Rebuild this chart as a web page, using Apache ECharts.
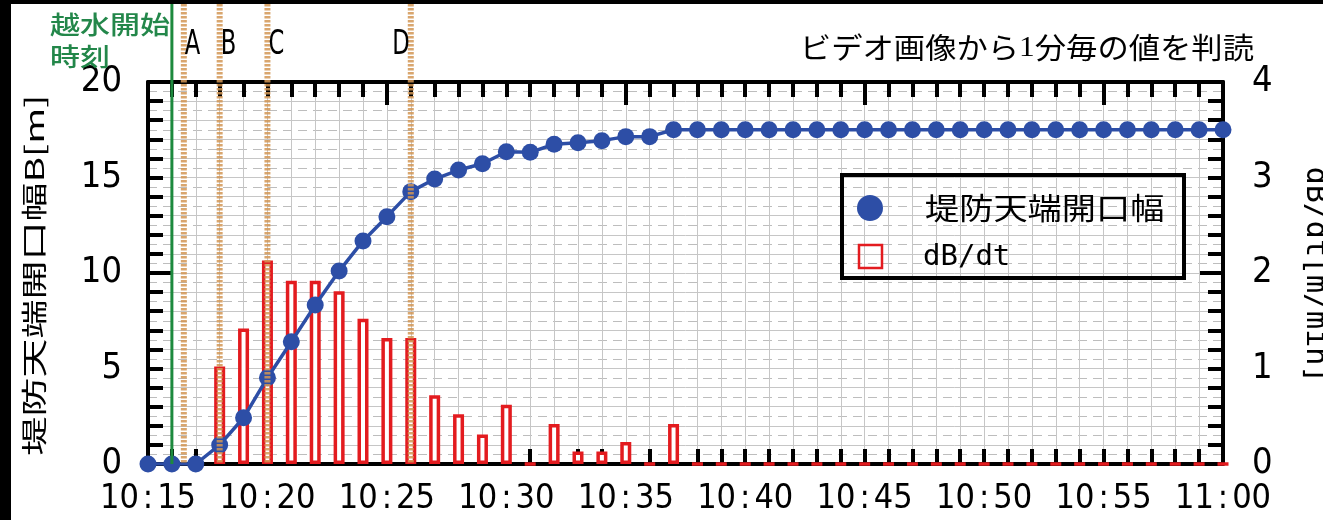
<!DOCTYPE html>
<html><head><meta charset="utf-8">
<script src="https://cdn.jsdelivr.net/npm/echarts@6/dist/echarts.min.js"></script>
<style>html,body{margin:0;padding:0;background:#fff}#c{width:1323px;height:520px}</style>
</head><body><div id="c"></div>
<script>
// ---- data ----
const times = ['10:15','10:16','10:17','10:18','10:19','10:20','10:21','10:22','10:23','10:24',
  '10:25','10:26','10:27','10:28','10:29','10:30','10:31','10:32','10:33','10:34',
  '10:35','10:36','10:37','10:38','10:39','10:40','10:41','10:42','10:43','10:44',
  '10:45','10:46','10:47','10:48','10:49','10:50','10:51','10:52','10:53','10:54',
  '10:55','10:56','10:57','10:58','10:59','11:00'];
const widthB = [0,0,0,1.0,2.42,4.52,6.4,8.32,10.1,11.68,
  12.95,14.26,14.92,15.39,15.72,16.35,16.32,16.74,16.82,16.93,
  17.14,17.14,17.5,17.5,17.5,17.5,17.5,17.5,17.5,17.5,
  17.5,17.5,17.5,17.5,17.5,17.5,17.5,17.5,17.5,17.5,
  17.5,17.5,17.5,17.5,17.5,17.5];
const dBdt = [0,0,0,1.02,1.42,2.13,1.92,1.92,1.81,1.52,
  1.32,1.32,0.72,0.52,0.31,0.62,0,0.42,0.13,0.13,
  0.23,0,0.42,0,0,0,0,0,0,0,
  0,0,0,0,0,0,0,0,0,0,
  0,0,0,0,0,0];
const xTickLabels = ['10:15','10:20','10:25','10:30','10:35','10:40','10:45','10:50','10:55','11:00'];
const leftTickLabels = ['0','5','10','15','20'];
const rightTickLabels = ['0','1','2','3','4'];
const overtopTime = '10:16';
const overtopLabel = '越水開始\n時刻';
const eventTimes = ['10:16:30','10:18','10:20','10:26'];
const eventLabels = ['A','B','C','D'];
const seriesNames = ['堤防天端開口幅','dB/dt'];
const leftTitle = '堤防天端開口幅B[m]';
const rightTitle = 'dB/dt[m/min]';
const noteText = ['ビデオ画像から','1','分毎の値を判読'];

// ---- helpers ----
function toMin(s){const p=s.split(':').map(Number);return (p[0]-10)*60+p[1]+(p[2]||0)/60;}
const xs = times.map(toMin);
const xMin = toMin(xTickLabels[0]), xMax = toMin(xTickLabels[xTickLabels.length-1]);
const NARROW = "'Liberation Sans Narrow','DejaVu Sans Condensed',sans-serif";
const CJK = "'Noto Sans CJK JP','Noto Sans CJK SC',sans-serif";
const MONO = "'DejaVu Sans Mono',monospace";
const BLUE = '#2d4ea6', RED = '#e31b1f', GREEN = '#1d8a3e', GRIDC = '#c6c6c6';
const tickStyle = {color:'#000', width:4};

const chart = echarts.init(document.getElementById('c'));
const none = {show:false};
const option = {
  animation:false,
  backgroundColor:'#fff',
  grid:{left:148, right:100, top:82, bottom:56, containLabel:false, outerBoundsMode:'none'},
  xAxis:[
    {type:'value', position:'bottom', min:xMin, max:xMax, interval:5,
     axisLine:{show:true, onZero:false, lineStyle:{color:'#000', width:4}},
     axisTick:{show:true, inside:true, length:15, lineStyle:tickStyle},
     minorTick:{show:true, splitNumber:5, length:15, lineStyle:tickStyle},
     splitLine:none,
     axisLabel:{margin:18, color:'#000',
       formatter:function(v){const s=xTickLabels[Math.round((v-xMin)/5)]||'';const p=s.split(':');return '{d|'+p[0]+'}{c|:}{d|'+p[1]+'}';},
       rich:{d:{fontSize:34, fontFamily:NARROW, color:'#000'}, c:{fontSize:34, fontFamily:NARROW, color:'#000', padding:[0,4,0,4]}}}},
    {type:'value', position:'top', min:xMin, max:xMax, interval:10,
     axisLine:{show:true, onZero:false, lineStyle:{color:'#000', width:4}},
     axisTick:{show:true, inside:true, length:23, lineStyle:tickStyle},
     minorTick:{show:true, splitNumber:10, length:15, lineStyle:tickStyle},
     axisLabel:none, splitLine:none},
    {type:'value', position:'bottom', min:xMin, max:xMax, interval:1,
     axisLine:none, axisTick:none, axisLabel:none,
     splitLine:{show:true, lineStyle:{color:GRIDC, width:1}}}
  ],
  yAxis:[
    {type:'value', position:'left', min:0, max:20, interval:5,
     axisLine:{show:true, onZero:false, lineStyle:{color:'#000', width:4}},
     axisTick:none, splitLine:none,
     axisLabel:{margin:26, fontSize:36, fontFamily:NARROW, color:'#000',
       formatter:function(v){return leftTickLabels[Math.round(v/5)];}}},
    {type:'value', position:'left', min:0, max:20, interval:10,
     axisLine:none, axisLabel:none, splitLine:none,
     axisTick:{show:true, inside:true, length:23, lineStyle:tickStyle},
     minorTick:{show:true, splitNumber:10, length:15, lineStyle:tickStyle}},
    {type:'value', position:'left', min:0, max:20, interval:1,
     axisLine:none, axisLabel:none, axisTick:none,
     splitLine:{show:true, lineStyle:{color:GRIDC, width:1}},
     minorTick:{show:false, splitNumber:2},
     minorSplitLine:{show:true, lineStyle:{color:'#bdbdbd', width:1, type:[9,6]}}},
    {type:'value', position:'right', min:0, max:4, interval:1,
     axisLine:{show:true, onZero:false, lineStyle:{color:'#000', width:4}},
     axisTick:none, splitLine:none,
     axisLabel:{margin:29, fontSize:36, fontFamily:NARROW, color:'#000',
       formatter:function(v){return rightTickLabels[Math.round(v)];}}},
    {type:'value', position:'right', min:0, max:4, interval:2,
     axisLine:none, axisLabel:none, splitLine:none,
     axisTick:{show:true, inside:true, length:23, lineStyle:tickStyle},
     minorTick:{show:true, splitNumber:10, length:15, lineStyle:tickStyle}}
  ],
  series:[
    {name:seriesNames[1], type:'bar', xAxisIndex:0, yAxisIndex:3, barWidth:11,
     data:xs.map((x,i)=>[x,dBdt[i]]), z:3,
     itemStyle:{color:'#fff', borderColor:RED, borderWidth:3.5}},
    {name:seriesNames[0], type:'line', xAxisIndex:0, yAxisIndex:0,
     data:xs.map((x,i)=>[x,widthB[i]]), z:5,
     symbol:'circle', symbolSize:17, itemStyle:{color:BLUE},
     lineStyle:{color:BLUE, width:3.5}}
  ]
};
chart.setOption(option);

// ---- overlay annotations positioned via the axes ----
const yBot = chart.convertToPixel({yAxisIndex:0}, 0);
const g = [];
g.push({type:'rect', z:20, shape:{x:0,y:0,width:11,height:520}, style:{fill:'#000'}});
g.push({type:'rect', z:20, shape:{x:0,y:0,width:1323,height:4}, style:{fill:'#000'}});
const gx = chart.convertToPixel({xAxisIndex:0}, toMin(overtopTime));
g.push({type:'line', z:12, shape:{x1:gx,y1:4,x2:gx,y2:yBot}, style:{stroke:GREEN, lineWidth:3}});
g.push({type:'text', z:12, x:50, y:24, scaleX:1.2,
  style:{text:overtopLabel.split('\n')[0], fontSize:25, fontWeight:500, fontFamily:CJK, fill:'#23874a', align:'left', verticalAlign:'middle'}});
g.push({type:'text', z:12, x:50, y:56, scaleX:1.2,
  style:{text:overtopLabel.split('\n')[1], fontSize:25, fontWeight:500, fontFamily:CJK, fill:'#23874a', align:'left', verticalAlign:'middle'}});
eventTimes.forEach((t,i)=>{
  const ex = chart.convertToPixel({xAxisIndex:0}, toMin(t));
  g.push({type:'line', z:12, shape:{x1:ex,y1:4,x2:ex,y2:yBot},
    style:{stroke:'rgba(210,150,85,0.85)', lineWidth:6, lineDash:[2.5,1.5]}});
  const right = i===eventLabels.length-1;
  g.push({type:'text', z:12, x: right? ex-1 : ex+1, y:45, scaleX:0.74,
    style:{text:eventLabels[i], fontSize:34, fontFamily:NARROW, fill:'#000', align: right?'right':'left', verticalAlign:'middle'}});
});
// note
g.push({type:'text', z:12, x:1254, y:48, scaleX:1.08,
  style:{text:'{a|'+noteText[0]+'}{b|'+noteText[1]+'}{a|'+noteText[2]+'}', align:'right', verticalAlign:'middle',
    rich:{a:{fontSize:29, fontFamily:CJK, fill:'#000'}, b:{fontSize:29, fontFamily:"'Liberation Serif',serif", fill:'#000'}}}});
// legend box
g.push({type:'rect', z:12, shape:{x:842,y:175,width:342,height:103}, style:{fill:'none', stroke:'#000', lineWidth:4}});
g.push({type:'circle', z:12, shape:{cx:870,cy:208,r:13}, style:{fill:BLUE}});
g.push({type:'rect', z:12, shape:{x:859,y:245,width:23,height:23}, style:{fill:'none', stroke:RED, lineWidth:2.5}});
g.push({type:'text', z:12, x:925, y:208, scaleX:1.14,
  style:{text:seriesNames[0], fontSize:30, fontFamily:CJK, fill:'#000', align:'left', verticalAlign:'middle'}});
g.push({type:'text', z:12, x:923, y:257,
  style:{text:seriesNames[1], fontSize:29, fontFamily:MONO, fill:'#000', align:'left', verticalAlign:'middle'}});
// axis titles
g.push({type:'text', z:12, x:34, y:275, rotation:Math.PI/2, scaleX:1.5,
  style:{text:leftTitle, fontSize:26, fontFamily:CJK, fill:'#000', align:'center', verticalAlign:'middle'}});
g.push({type:'text', z:12, x:1300, y:275, rotation:-Math.PI/2,
  style:{text:rightTitle, fontSize:30, fontFamily:MONO, fill:'#000', align:'center', verticalAlign:'bottom'}});
chart.setOption({graphic:{elements:g}});
</script></body></html>
